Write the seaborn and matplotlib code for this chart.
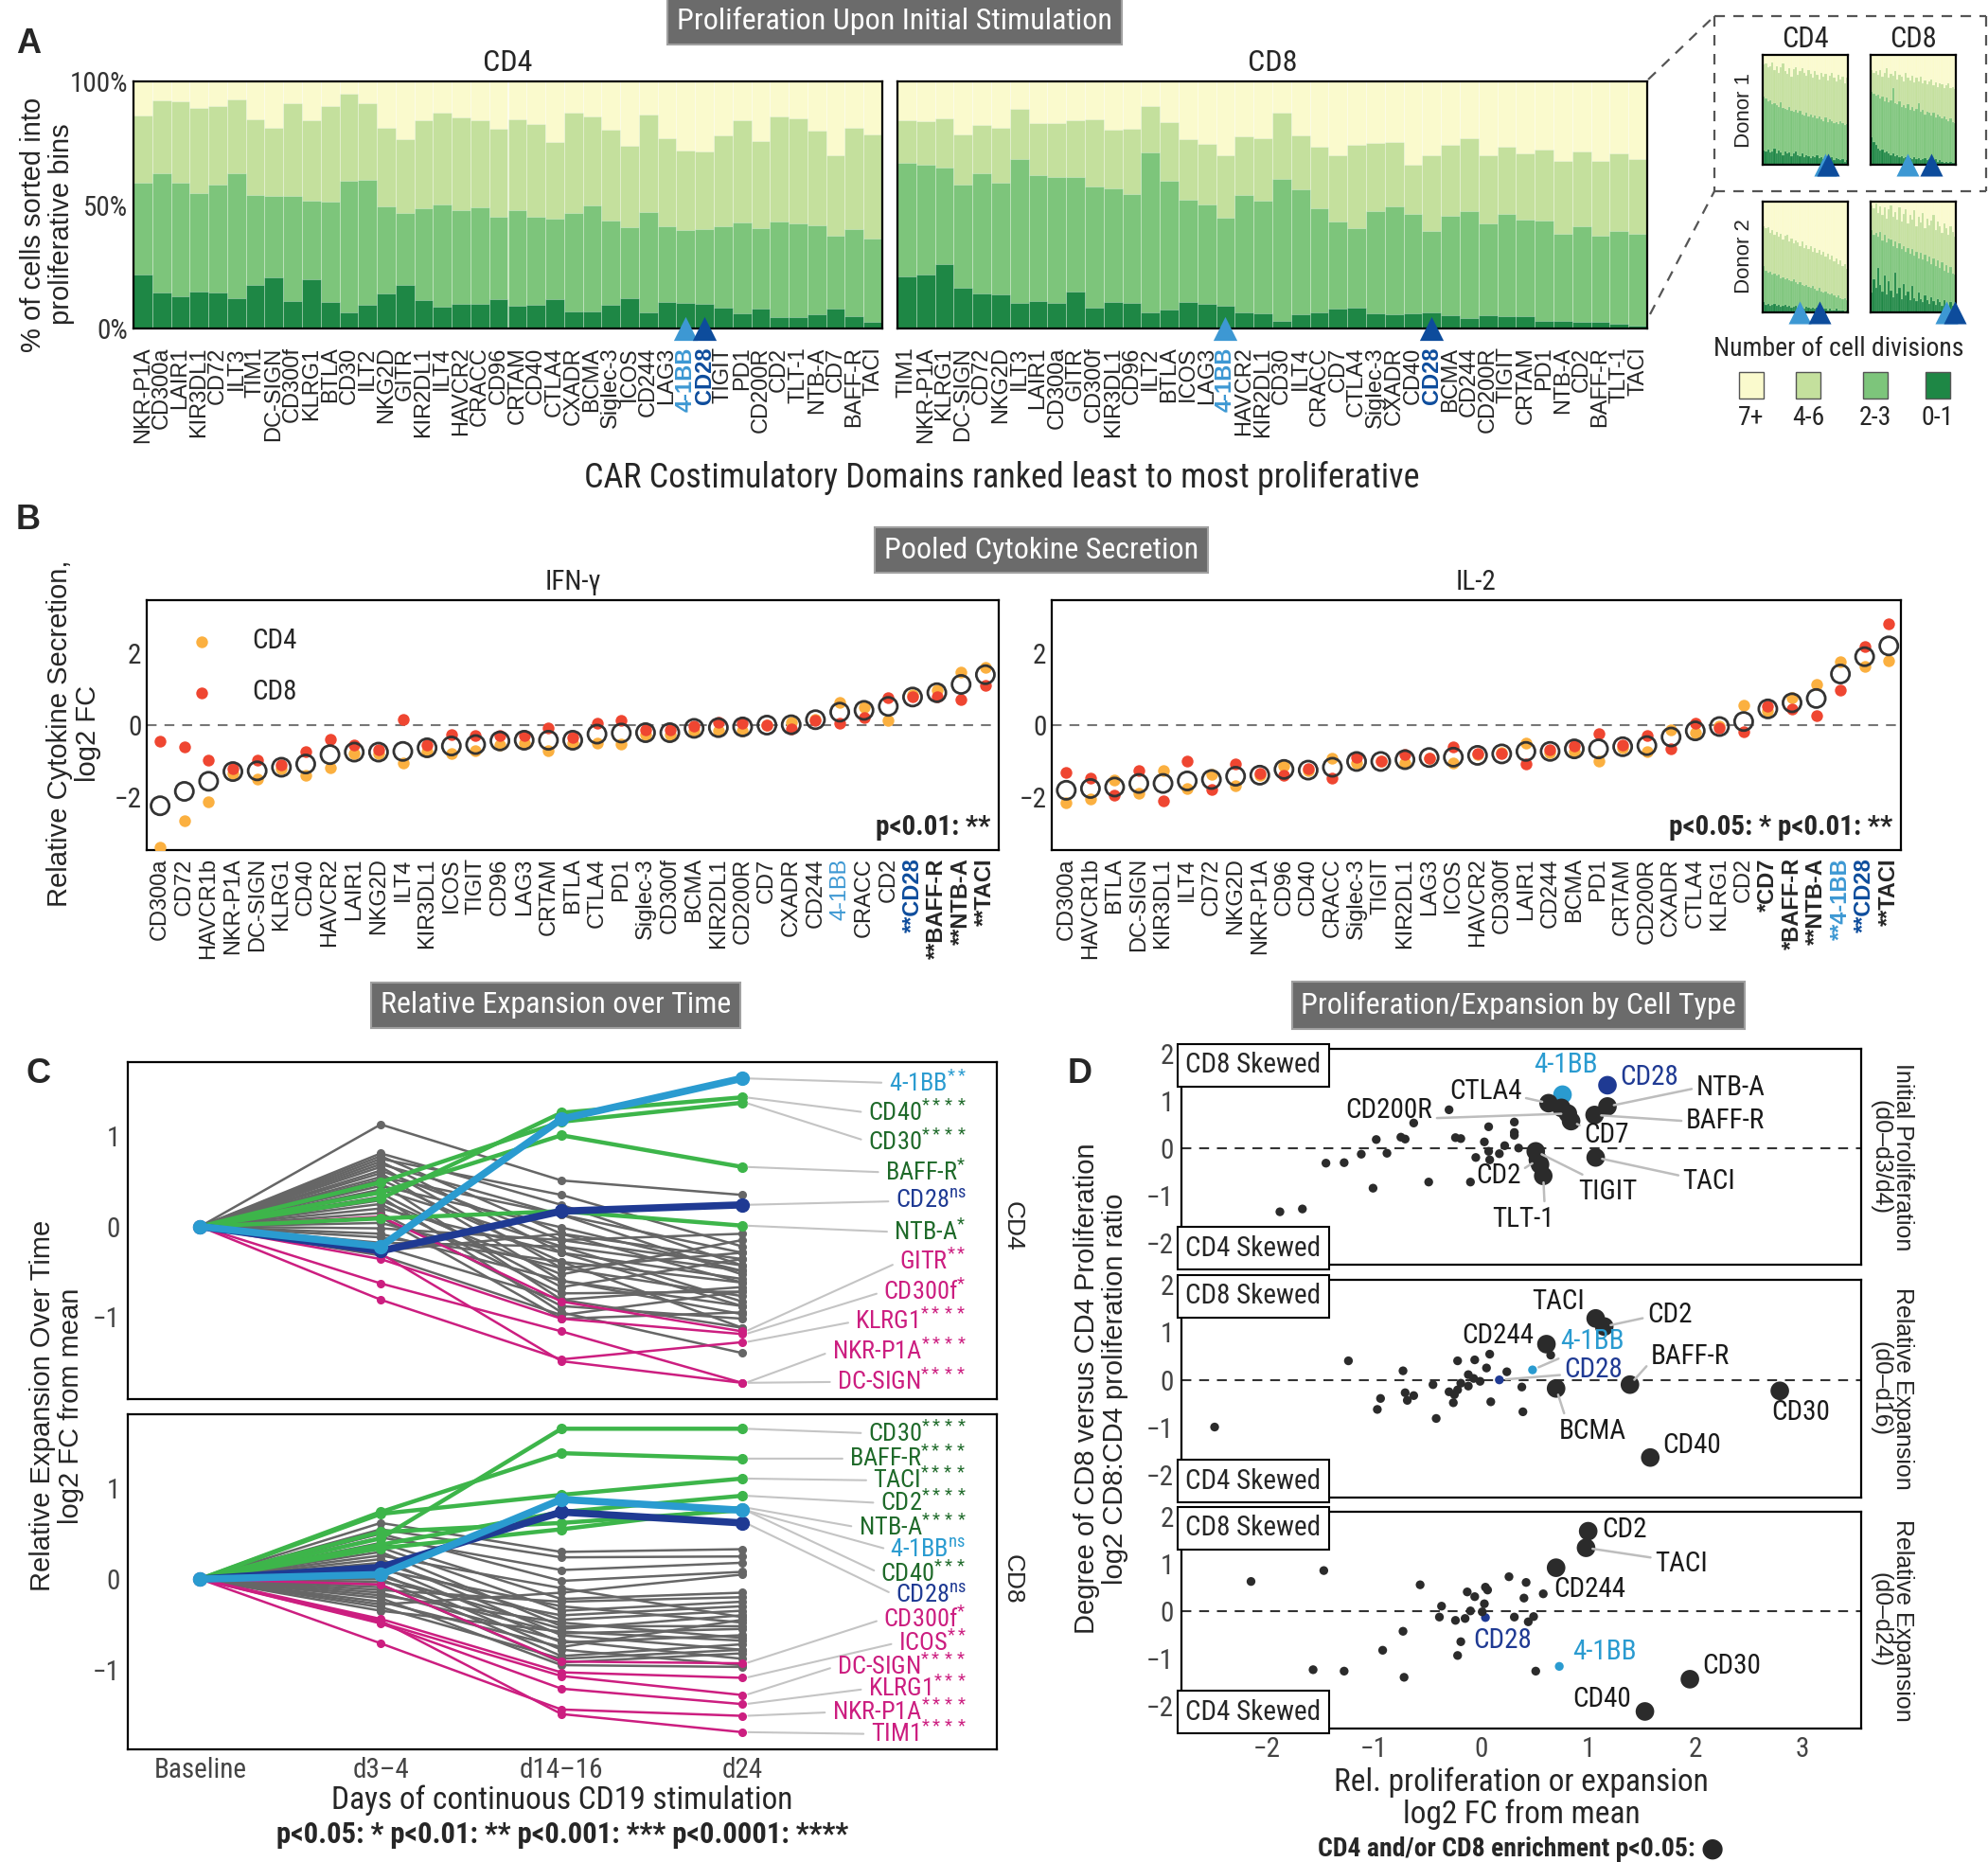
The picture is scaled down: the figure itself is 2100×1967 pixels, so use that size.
import numpy as np
import matplotlib
matplotlib.use("Agg")
import matplotlib.pyplot as plt
from matplotlib.lines import Line2D
from matplotlib.patches import Rectangle
from matplotlib import font_manager
import seaborn as sns

sns.set_theme(style="white")


def pick_narrow():
    ttf = font_manager.fontManager.ttflist
    names = {f.name for f in ttf}
    for n in ["Liberation Sans Narrow", "Roboto Condensed", "Open Sans Condensed", "DejaVu Sans Condensed",
              "Noto Sans Condensed"]:
        if n in names:
            return n, "normal"
    for f in ttf:
        if f.name in ("DejaVu Sans", "Noto Sans", "Open Sans", "Roboto", "Liberation Sans") and \
                str(f.stretch) in ("condensed", "semi-condensed", "extra-condensed"):
            return f.name, f.stretch
    return "Roboto", "normal"


NAME, STRETCH = pick_narrow()
NKW = dict(family=[NAME, "DejaVu Sans"], stretch=STRETCH)
plt.rcParams["font.family"] = ["Liberation Sans", "DejaVu Sans"]
plt.rcParams["mathtext.fontset"] = "custom"
plt.rcParams["mathtext.rm"] = NAME
plt.rcParams["mathtext.it"] = NAME

# ---------------- data : panel A (percent of cells, cumulative tops) ----------------
cd4_names = ["NKR-P1A", "CD300a", "LAIR1", "KIR3DL1", "CD72", "ILT3", "TIM1", "DC-SIGN", "CD300f", "KLRG1",
             "BTLA", "CD30", "ILT2", "NKG2D", "GITR", "KIR2DL1", "ILT4", "HAVCR2", "CRACC", "CD96",
             "CRTAM", "CD40", "CTLA4", "CXADR", "BCMA", "Siglec-3", "ICOS", "CD244", "LAG3", "4-1BB",
             "CD28", "TIGIT", "PD1", "CD200R", "CD2", "TLT-1", "NTB-A", "CD7", "BAFF-R", "TACI"]
cd4_top46 = [86.2, 92.5, 92.0, 89.4, 90.1, 92.6, 84.6, 81.4, 91.0, 84.3, 90.1, 94.9, 91.0, 81.1, 76.7, 84.1,
             87.5, 85.4, 84.1, 80.8, 84.7, 82.7, 75.4, 87.3, 86.0, 80.3, 73.9, 86.5, 76.9, 72.1, 71.8, 78.3,
             84.3, 75.7, 85.9, 85.0, 80.1, 70.3, 81.4, 78.6]
cd4_top23 = [59.1, 62.9, 59.1, 54.6, 58.2, 62.9, 54.1, 53.8, 53.8, 51.8, 51.5, 59.9, 60.0, 49.3, 46.8, 48.7,
             50.2, 47.8, 48.9, 45.2, 47.8, 45.1, 44.6, 46.8, 49.7, 43.8, 41.0, 47.1, 41.3, 39.7, 40.4, 41.4,
             42.8, 40.6, 43.2, 42.5, 41.7, 37.5, 40.1, 36.3]
cd4_top01 = [21.9, 14.6, 13.2, 14.9, 14.6, 12.1, 17.7, 20.6, 11.1, 20.0, 10.8, 6.6, 9.6, 14.3, 17.5, 11.6,
             8.9, 9.8, 9.8, 11.7, 9.2, 9.4, 11.7, 7.0, 6.9, 9.6, 12.1, 6.4, 10.7, 10.4, 9.8, 8.5,
             6.0, 8.2, 4.5, 4.7, 5.7, 8.2, 5.1, 2.5]

cd8_names = ["TIM1", "NKR-P1A", "KLRG1", "DC-SIGN", "CD72", "NKG2D", "ILT3", "LAIR1", "CD300a", "GITR",
             "CD300f", "KIR3DL1", "CD96", "ILT2", "BTLA", "ICOS", "LAG3", "4-1BB", "HAVCR2", "KIR2DL1",
             "CD30", "ILT4", "CRACC", "CD7", "CTLA4", "Siglec-3", "CXADR", "CD40", "CD28", "BCMA",
             "CD244", "CD200R", "TIGIT", "CRTAM", "PD1", "NTB-A", "CD2", "BAFF-R", "TLT-1", "TACI"]
cd8_top46 = [84.3, 83.9, 85.0, 78.6, 82.4, 81.1, 89.0, 83.3, 83.1, 84.3, 84.6, 80.3, 80.8, 89.9, 83.7, 76.7,
             74.8, 70.1, 77.7, 77.1, 87.5, 78.3, 73.5, 70.1, 74.4, 75.2, 75.4, 66.1, 70.3, 74.5, 76.9, 70.3,
             73.4, 71.0, 72.5, 68.0, 71.8, 67.8, 71.0, 68.7]
cd8_top23 = [67.1, 66.2, 65.0, 58.2, 62.9, 58.9, 68.4, 62.0, 61.4, 61.4, 57.3, 56.6, 54.5, 71.1, 59.6, 52.1,
             50.3, 44.8, 54.1, 51.8, 60.5, 56.3, 48.7, 43.2, 40.6, 47.6, 49.3, 46.5, 39.4, 45.7, 47.6, 42.7,
             46.4, 44.2, 43.6, 38.5, 41.4, 37.5, 39.5, 38.2]
cd8_top01 = [20.9, 21.9, 26.1, 16.6, 14.3, 13.9, 10.2, 11.3, 10.4, 14.9, 8.3, 10.7, 10.2, 6.4, 7.5, 10.7,
             9.8, 9.2, 6.6, 6.2, 3.1, 5.7, 6.4, 7.9, 8.5, 6.0, 5.7, 6.0, 6.6, 5.4, 4.1, 5.4,
             5.0, 5.1, 3.1, 3.1, 2.8, 2.5, 2.0, 1.3]

# donor insets (40 ranked domains each)
d1cd4_46 = [91, 92, 89, 90, 93, 86, 90, 84, 89, 92, 85, 83, 88, 80, 87, 89, 82, 85, 88, 84,
            81, 86, 83, 79, 85, 82, 78, 84, 80, 83, 77, 81, 84, 79, 76, 82, 78, 80, 74, 79]
d1cd4_23 = [62, 60, 58, 59, 55, 56, 54, 53, 57, 52, 51, 50, 53, 49, 48, 50, 47, 49, 46, 45,
            47, 44, 46, 43, 45, 42, 44, 41, 40, 43, 39, 41, 40, 38, 39, 37, 40, 38, 36, 37]
d1cd4_01 = [13, 12, 14, 11, 12, 15, 10, 13, 11, 9, 12, 10, 11, 8, 10, 12, 9, 8, 10, 7,
            9, 8, 6, 8, 7, 9, 6, 7, 5, 8, 6, 5, 7, 4, 6, 5, 4, 5, 3, 4]
d1cd8_46 = [86, 84, 85, 82, 86, 80, 84, 88, 79, 83, 81, 85, 78, 82, 80, 76, 84, 79, 77, 81,
            75, 79, 76, 80, 74, 77, 73, 76, 78, 72, 75, 71, 74, 73, 70, 72, 74, 70, 71, 69]
d1cd8_23 = [66, 65, 63, 64, 60, 62, 58, 61, 57, 59, 70, 56, 55, 58, 53, 54, 52, 55, 50, 53,
            49, 51, 56, 48, 50, 46, 48, 47, 45, 47, 43, 46, 44, 42, 44, 41, 40, 42, 39, 38]
d1cd8_01 = [25, 21, 18, 15, 13, 14, 11, 12, 10, 9, 10, 8, 9, 7, 8, 6, 7, 8, 6, 5,
            7, 5, 6, 4, 5, 6, 4, 5, 3, 4, 5, 3, 4, 3, 2, 3, 2, 3, 2, 2]
d2cd4_46 = [78, 76, 77, 72, 74, 70, 73, 68, 71, 66, 69, 70, 64, 67, 62, 65, 63, 60, 64, 58,
            61, 57, 60, 55, 58, 54, 56, 52, 55, 50, 53, 48, 51, 46, 49, 44, 47, 42, 44, 39]
d2cd4_23 = [42, 38, 36, 37, 34, 35, 33, 34, 31, 32, 30, 31, 29, 28, 30, 27, 26, 27, 25, 24,
            25, 23, 22, 24, 21, 20, 22, 19, 18, 19, 17, 16, 17, 15, 14, 15, 13, 12, 13, 11]
d2cd4_01 = [9, 7, 8, 6, 7, 8, 6, 7, 5, 6, 7, 5, 6, 4, 5, 6, 4, 5, 4, 3,
            5, 4, 3, 4, 3, 4, 3, 2, 3, 3, 2, 3, 2, 2, 3, 2, 2, 2, 1, 2]
d2cd8_46 = [97, 94, 98, 90, 96, 88, 95, 85, 93, 97, 86, 91, 84, 95, 82, 89, 93, 80, 88, 84,
            92, 78, 86, 81, 90, 76, 85, 79, 83, 88, 74, 82, 78, 72, 80, 76, 70, 78, 73, 68]
d2cd8_23 = [74, 70, 72, 68, 73, 65, 70, 63, 67, 66, 60, 64, 58, 62, 57, 60, 55, 58, 53, 57,
            51, 55, 49, 54, 48, 52, 46, 50, 44, 49, 42, 47, 40, 45, 38, 43, 36, 41, 35, 34]
d2cd8_01 = [18, 30, 22, 40, 25, 19, 33, 16, 28, 20, 14, 36, 17, 22, 12, 26, 15, 19, 11, 24,
            13, 10, 18, 12, 9, 15, 11, 8, 14, 10, 7, 12, 9, 6, 11, 8, 5, 9, 6, 4]
# rank of 4-1BB / CD28 in each inset
inset_rank_41bb = [29, 17, 17, 35]
inset_rank_cd28 = [30, 28, 26, 39]

# ---------------- data : panel B (log2 FC) ----------------
ifn_names = ["CD300a", "CD72", "HAVCR1b", "NKR-P1A", "DC-SIGN", "KLRG1", "CD40", "HAVCR2", "LAIR1", "NKG2D",
             "ILT4", "KIR3DL1", "ICOS", "TIGIT", "CD96", "LAG3", "CRTAM", "BTLA", "CTLA4", "PD1",
             "Siglec-3", "CD300f", "BCMA", "KIR2DL1", "CD200R", "CD7", "CXADR", "CD244", "4-1BB", "CRACC",
             "CD2", "CD28", "BAFF-R", "NTB-A", "TACI"]
ifn_sig = {"CD28": "**", "BAFF-R": "**", "NTB-A": "**", "TACI": "**"}
ifn_cd4 = [-3.39, -2.66, -2.14, -1.34, -1.50, -1.22, -1.39, -1.17, -0.80, -0.80, -1.06, -0.73, -0.80, -0.71,
           -0.54, -0.49, -0.71, -0.49, -0.49, -0.52, -0.27, -0.27, -0.16, -0.16, -0.16, 0.01, 0.08, 0.17,
           0.64, 0.50, 0.12, 0.85, 0.97, 1.46, 1.61]
ifn_cd8 = [-0.46, -0.60, -0.98, -1.20, -0.98, -1.10, -0.73, -0.40, -0.56, -0.68, 0.15, -0.54, -0.27, -0.30,
           -0.30, -0.30, -0.07, -0.35, 0.06, 0.12, -0.14, -0.14, -0.02, 0.08, 0.05, 0.01, -0.11, 0.12,
           0.05, 0.22, 0.75, 0.80, 0.80, 0.72, 1.11]
ifn_mean = [-2.24, -1.84, -1.56, -1.29, -1.27, -1.17, -1.08, -0.82, -0.75, -0.75, -0.73, -0.63, -0.58, -0.54,
            -0.44, -0.42, -0.42, -0.42, -0.25, -0.22, -0.21, -0.21, -0.09, -0.07, -0.05, 0.00, 0.01, 0.15,
            0.36, 0.41, 0.52, 0.78, 0.90, 1.13, 1.40]

il2_names = ["CD300a", "HAVCR1b", "BTLA", "DC-SIGN", "KIR3DL1", "ILT4", "CD72", "NKG2D", "NKR-P1A", "CD96",
             "CD40", "CRACC", "Siglec-3", "TIGIT", "KIR2DL1", "LAG3", "ICOS", "HAVCR2", "CD300f", "LAIR1",
             "CD244", "BCMA", "PD1", "CRTAM", "CD200R", "CXADR", "CTLA4", "KLRG1", "CD2", "CD7",
             "BAFF-R", "NTB-A", "4-1BB", "CD28", "TACI"]
il2_sig = {"CD7": "*", "BAFF-R": "*", "NTB-A": "**", "4-1BB": "**", "CD28": "**", "TACI": "**"}
il2_cd4 = [-2.16, -2.05, -1.53, -1.89, -1.25, -1.76, -1.37, -1.69, -1.39, -1.12, -1.25, -0.92, -1.06, -1.01,
           -1.06, -0.92, -1.06, -0.82, -0.75, -0.49, -0.75, -0.73, -0.99, -0.63, -0.73, -0.14, -0.21, -0.02,
           0.55, 0.39, 0.75, 1.13, 1.77, 1.63, 1.79]
il2_cd8 = [-1.32, -1.48, -1.95, -1.27, -2.11, -0.99, -1.78, -1.08, -1.34, -1.39, -1.22, -1.48, -0.89, -1.01,
           -0.82, -0.92, -0.60, -0.80, -0.79, -1.08, -0.68, -0.58, -0.23, -0.56, -0.30, -0.65, 0.06, -0.07,
           -0.18, 0.52, 0.45, 0.26, 0.97, 2.18, 2.81]
il2_mean = [-1.81, -1.76, -1.72, -1.62, -1.62, -1.55, -1.51, -1.42, -1.39, -1.23, -1.25, -1.17, -1.01, -1.01,
            -0.96, -0.90, -0.89, -0.84, -0.80, -0.73, -0.73, -0.66, -0.66, -0.60, -0.57, -0.33, -0.16, -0.04,
            0.10, 0.45, 0.62, 0.74, 1.42, 1.90, 2.20]

# ---------------- data : panel C (log2 FC at d3-4, d14-16, d24; baseline = 0) ----------------
time_labels = ["Baseline", "d3–4", "d14–16", "d24"]
c4_hi_names = ["4-1BB", "CD40", "CD30", "BAFF-R", "CD28", "NTB-A", "GITR", "CD300f", "KLRG1", "NKR-P1A", "DC-SIGN"]
c4_hi_sig = ["**", "****", "****", "*", "ns", "*", "**", "*", "****", "****", "****"]
c4_hi_group = ["lb", "up", "up", "up", "db", "up", "down", "down", "down", "down", "down"]
c4_hi_vals = [[-0.22, 1.19, 1.64], [0.31, 1.26, 1.43], [0.49, 1.16, 1.37], [0.38, 1.01, 0.66],
              [-0.27, 0.17, 0.24], [0.09, 0.17, 0.01], [0.11, -0.83, -1.16], [-0.36, -1.02, -1.19],
              [-0.81, -1.47, -1.28], [-0.63, -1.16, -1.73], [-0.30, -1.49, -1.73]]
c4_gray = [[1.13, 0.51, 0.35], [0.81, 0.24, -0.43], [0.78, -0.08, -0.62], [0.75, 0.35, -0.22],
           [0.72, -0.29, -0.88], [0.69, 0.13, -0.53], [0.66, -0.46, -0.77], [0.62, -0.15, -0.08],
           [0.59, -0.60, -0.97], [0.55, 0.13, -0.29], [0.52, -0.39, -1.12], [0.48, -0.81, -0.67],
           [0.45, -0.01, -0.49], [0.41, -0.22, -0.83], [0.37, -0.67, -0.36], [0.33, -0.95, -1.40],
           [0.29, -0.53, -0.15], [0.25, -0.74, -0.72], [0.20, -0.29, -0.58], [0.15, -0.88, -1.02],
           [0.10, -1.02, -0.95], [0.04, -0.46, -0.29], [-0.02, -0.15, -0.43], [-0.08, -0.60, -0.88],
           [-0.12, -0.39, -0.62], [-0.18, -0.22, -0.49], [-0.22, -0.81, -1.12], [-0.27, -0.08, -0.36],
           [-0.32, -0.98, -0.72]]
c8_hi_names = ["CD30", "BAFF-R", "TACI", "CD2", "NTB-A", "4-1BB", "CD40", "CD28",
               "CD300f", "ICOS", "DC-SIGN", "KLRG1", "NKR-P1A", "TIM1"]
c8_hi_sig = ["****", "****", "****", "****", "****", "ns", "***", "ns", "*", "**", "****", "***", "****", "****"]
c8_hi_group = ["up", "up", "up", "up", "up", "lb", "up", "db", "down", "down", "down", "down", "down", "down"]
c8_hi_vals = [[0.45, 1.66, 1.66], [0.74, 1.39, 1.33], [0.72, 0.93, 1.11], [0.38, 0.74, 0.92],
              [0.34, 0.55, 0.79], [0.05, 0.88, 0.76], [0.52, 0.62, 0.76], [0.13, 0.74, 0.62],
              [-0.06, -0.91, -0.93], [-0.44, -1.03, -1.09], [-0.48, -1.07, -1.28], [-0.49, -1.21, -1.38],
              [-0.71, -1.44, -1.51], [-0.46, -1.49, -1.69]]
c8_gray = [[0.62, 0.30, 0.33], [0.55, 0.24, 0.25], [0.50, -0.02, 0.08], [0.46, 0.10, 0.18],
           [0.40, -0.22, -0.15], [0.35, -0.35, -0.25], [0.30, -0.52, -0.52], [0.26, -0.10, -0.42],
           [0.22, -0.62, -0.78], [0.18, -0.45, -0.35], [0.14, -0.70, -0.62], [0.10, -0.30, -0.48],
           [0.06, -0.78, -0.95], [0.03, -0.55, -0.40], [0.00, -0.85, -0.72], [-0.03, -0.40, -0.30],
           [-0.06, -0.92, -0.82], [-0.09, -0.60, -0.55], [-0.12, -0.25, -0.20], [-0.15, -0.68, -0.88],
           [-0.18, -0.48, -0.65], [-0.21, -0.95, -0.97], [-0.25, -0.75, -0.45], [-0.28, -0.15, 0.05],
           [-0.31, -0.88, -0.78], [-0.35, -0.58, -0.68]]

# ---------------- data : panel D (x = rel. prolif/expansion, y = log2 CD8:CD4) ----------------
d1_x = [0.76, 1.18, 1.18, 1.06, 0.63, 0.75, 0.81, 0.84, 1.07, 0.51, 0.53, 0.55, 0.58,
        -0.30, -0.63, -0.98, -0.75, -0.71, -0.24, -0.19, 0.07, 0.31, 0.31, 0.31, 0.03, 0.22, 0.35, 0.07,
        0.17, -0.05, 0.08, -1.12, -0.88, -1.28, -1.45, -0.49, -0.10, -1.01, -1.67, -1.88]
d1_y = [1.13, 1.33, 0.88, 0.70, 0.95, 0.85, 0.73, 0.57, -0.20, -0.07, -0.25, -0.35, -0.59,
        0.81, 0.53, 0.18, 0.23, 0.19, 0.22, 0.20, 0.45, 0.55, 0.33, 0.27, 0.13, 0.05, 0.00, -0.07,
        -0.12, -0.20, -0.25, -0.13, -0.11, -0.31, -0.32, -0.72, -0.72, -0.85, -1.29, -1.35]
d1_sig = [1] * 13 + [0] * 27
d1_id = ["4-1BB", "CD28"] + [""] * 38

d2_x = [1.07, 1.15, 0.61, 1.39, 0.70, 2.79, 1.58, 0.48, 0.17,
        0.65, -1.24, -0.73, -0.22, -0.06, 0.08, 0.24, -0.12, -0.07, -0.01, -0.19, -0.12, -0.22, -0.25,
        0.38, -0.71, -0.63, -0.94, -0.69, -0.26, 0.09, -0.97, 0.39, -0.42, -2.49, -0.30, 0.05, -0.45]
d2_y = [1.29, 1.12, 0.75, -0.10, -0.18, -0.23, -1.63, 0.21, 0.00,
        0.52, 0.40, 0.19, 0.40, 0.42, 0.54, 0.17, 0.11, 0.03, -0.03, -0.07, -0.13, -0.21, -0.31,
        -0.15, -0.27, -0.33, -0.39, -0.43, -0.48, -0.46, -0.62, -0.67, -0.81, -0.99, -0.25, 0.25, -0.10]
d2_sig = [1] * 7 + [0] * 30
d2_id = [""] * 7 + ["4-1BB", "CD28"] + [""] * 28

d3_x = [1.00, 0.98, 0.70, 1.95, 1.53, 0.04, 0.73,
        -2.15, -1.47, -0.57, 0.26, 0.42, 0.58, -0.13, 0.06, 0.04, -0.06, 0.03, -0.37, 0.40, -0.10, 0.01,
        -0.39, -0.24, -0.15, 0.31, 0.44, 0.49, -0.73, -0.19, -0.92, -0.22, -1.57, -1.28, -0.72, 0.51]
d3_y = [1.69, 1.34, 0.92, -1.43, -2.11, -0.13, -1.16,
        0.63, 0.86, 0.56, 0.73, 0.61, 0.37, 0.41, 0.45, 0.51, 0.31, 0.16, 0.11, 0.28, 0.01, -0.01,
        -0.12, -0.19, -0.15, -0.12, -0.22, -0.11, -0.42, -0.64, -0.82, -0.93, -1.23, -1.26, -1.39, -1.26]
d3_sig = [1] * 5 + [0] * 31
d3_id = [""] * 5 + ["CD28", "4-1BB"] + [""] * 29

# ---------------- styles ----------------
C7, C46, C23, C01 = "#fafacd", "#c4e09d", "#7dc57b", "#1e8745"
LB, DB = "#3d98d3", "#0d4c9c"
ORANGE, RED = "#fbb040", "#ef4631"
C_UP, C_UP_TXT = "#3db54a", "#1f6a2a"
C_DOWN = "#cc1e80"
C_GRAY = "#666666"
LB_C, DB_C = "#2a9bd0", "#1f3a93"

W, H = 2100, 1967
fig = plt.figure(figsize=(21, 19.67), dpi=100)


def add_ax(l, t, r, b):
    return fig.add_axes([l / W, 1 - b / H, (r - l) / W, (b - t) / H])


def ftext(x, y, s, **kw):
    return fig.text(x / W, 1 - y / H, s, **kw)


def fline(x1, y1, x2, y2, **kw):
    fig.add_artist(Line2D([x1 / W, x2 / W], [1 - y1 / H, 1 - y2 / H], transform=fig.transFigure, **kw))


def title_box(xc, yc, s):
    ftext(xc, yc, s, ha="center", va="center", fontsize=23, color="white", **NKW,
          bbox=dict(boxstyle="square,pad=0.3", fc="#6b6b6b", ec="#a0a0a0", lw=1.5))


def frame(ax, lw=1.6):
    for sp in ax.spines.values():
        sp.set_visible(True)
        sp.set_color("black")
        sp.set_linewidth(lw)


def narrow_ticks(ax, axis="y", size=18, color="#333333"):
    labels = ax.get_yticklabels() if axis == "y" else ax.get_xticklabels()
    for t in labels:
        t.set_family(NKW["family"])
        t.set_stretch(STRETCH)
        t.set_fontsize(size)
        t.set_color(color)


def stacked(ax, t46, t23, t01, lw):
    n = len(t46)
    for vals, col in [([100] * n, C7), (t46, C46), (t23, C23), (t01, C01)]:
        sns.barplot(x=list(range(n)), y=vals, color=col, width=1.0, saturation=1, errorbar=None,
                    edgecolor=(1, 1, 1, 0.3), linewidth=lw, ax=ax)
    ax.set_xlim(-0.5, n - 0.5)
    ax.set_ylim(0, 100)
    ax.set_xlabel("")
    ax.set_ylabel("")
    frame(ax)


# ================= Panel A =================
title_box(945, 22, "Proliferation Upon Initial Stimulation")
ftext(30, 47, "A", fontsize=26, weight="bold", ha="center", va="center")
for (l, r), names, t46, t23, t01, title in [((141, 932), cd4_names, cd4_top46, cd4_top23, cd4_top01, "CD4"),
                                            ((948, 1740), cd8_names, cd8_top46, cd8_top23, cd8_top01, "CD8")]:
    ax = add_ax(l, 86, r, 347)
    stacked(ax, t46, t23, t01, 0.7)
    ax.set_title(title, fontsize=23, pad=8, **NKW)
    ax.set_xticks(range(len(names)))
    ax.set_xticklabels(names, rotation=90, fontsize=17)
    ax.tick_params(axis="x", length=0, pad=14)
    for t in ax.get_xticklabels():
        if t.get_text() == "4-1BB":
            t.set_color(LB); t.set_weight("bold")
        elif t.get_text() == "CD28":
            t.set_color(DB); t.set_weight("bold")
    ax.scatter([names.index("4-1BB")], [0], marker="^", s=330, color=LB, clip_on=False, zorder=5, linewidths=0)
    ax.scatter([names.index("CD28")], [0], marker="^", s=330, color=DB, clip_on=False, zorder=5, linewidths=0)
    if title == "CD4":
        ax.set_yticks([0, 50, 100])
        ax.set_yticklabels(["0%", "50%", "100%"])
        ax.tick_params(axis="y", length=0, pad=4)
        narrow_ticks(ax, "y", 21)
    else:
        ax.set_yticks([])

ftext(50, 237, "% of cells sorted into\nproliferative bins", rotation=90, ha="center", va="center",
      fontsize=21, linespacing=1.05)
ftext(1058, 505, "CAR Costimulatory Domains ranked least to most proliferative", ha="center", va="center",
      fontsize=26, **NKW)

# insets
inset_boxes = [(1862, 58, 1952, 174), (1976, 58, 2066, 174), (1862, 213, 1952, 330), (1976, 213, 2066, 330)]
inset_data = [(d1cd4_46, d1cd4_23, d1cd4_01), (d1cd8_46, d1cd8_23, d1cd8_01),
              (d2cd4_46, d2cd4_23, d2cd4_01), (d2cd8_46, d2cd8_23, d2cd8_01)]
for i, (box, dat) in enumerate(zip(inset_boxes, inset_data)):
    ax = add_ax(*box)
    stacked(ax, *dat, 0.3)
    ax.set_xticks([]); ax.set_yticks([])
    ax.scatter([inset_rank_41bb[i]], [0], marker="^", s=300, color=LB, clip_on=False, zorder=5, linewidths=0)
    ax.scatter([inset_rank_cd28[i]], [0], marker="^", s=300, color=DB, clip_on=False, zorder=6, linewidths=0)
ftext(1907, 42, "CD4", ha="center", va="center", fontsize=22, **NKW)
ftext(2021, 42, "CD8", ha="center", va="center", fontsize=22, **NKW)
ftext(1843, 116, "Donor 1", rotation=90, ha="center", va="center", fontsize=16)
ftext(1843, 271, "Donor 2", rotation=90, ha="center", va="center", fontsize=16)

dash = dict(color="#555555", lw=1.6, ls=(0, (5, 4)))
fline(1811, 17, 2098, 17, **dash)
fline(2098, 17, 2098, 202, **dash)
fline(1811, 202, 2098, 202, **dash)
fline(1811, 17, 1811, 202, **dash)
fline(1741, 84, 1811, 17, **dash)
fline(1743, 332, 1811, 202, **dash)

ftext(1942, 368, "Number of cell divisions", ha="center", va="center", fontsize=20, **NKW)
for cx, col, lab in zip([1850, 1910, 1981, 2047], [C7, C46, C23, C01], ["7+", "4-6", "2-3", "0-1"]):
    fig.add_artist(Rectangle(((cx - 13) / W, 1 - 421 / H), 26 / W, 28 / H, transform=fig.transFigure,
                             fc=col, ec="#555555", lw=1))
    ftext(cx, 441, lab, ha="center", va="center", fontsize=20, **NKW)

# ================= Panel B =================
title_box(1100, 581, "Pooled Cytokine Secretion")
ftext(30, 549, "B", fontsize=26, weight="bold", ha="center", va="center")


def cytokine(ax, names, sig, cd4, cd8, mean, title, note, xlim):
    x = np.arange(len(names))
    ax.axhline(0, color="#777777", lw=1.5, ls=(0, (5, 4)), zorder=1)
    sns.scatterplot(x=x, y=cd4, color=ORANGE, s=80, linewidth=0, ax=ax, zorder=3, label="CD4")
    sns.scatterplot(x=x, y=cd8, color=RED, s=80, linewidth=0, ax=ax, zorder=3, label="CD8")
    ax.scatter(x, mean, s=190, facecolors="none", edgecolors="#333333", linewidths=2, zorder=4)
    ax.set_xlim(*xlim)
    ax.set_ylim(-3.47, 3.47)
    ax.set_yticks([-2, 0, 2])
    ax.tick_params(axis="y", length=0, pad=4)
    narrow_ticks(ax, "y", 21)
    ax.set_xticks(x)
    ax.set_xticklabels([sig.get(n, "") + n for n in names], rotation=90, fontsize=17)
    ax.tick_params(axis="x", length=0, pad=6)
    for t, n in zip(ax.get_xticklabels(), names):
        if n == "4-1BB":
            t.set_color(LB)
        elif n == "CD28":
            t.set_color(DB)
        if n in sig:
            t.set_weight("bold")
    ax.set_title(title, fontsize=21, pad=8, **NKW)
    ax.text(0.99, 0.09, note, transform=ax.transAxes, ha="right", va="center", fontsize=21,
            weight="bold", **NKW)
    frame(ax)


axI = add_ax(155, 634, 1055, 898)
cytokine(axI, ifn_names, ifn_sig, ifn_cd4, ifn_cd8, ifn_mean, "IFN-γ", "p<0.01: **", (-0.55, 34.55))
leg = axI.legend(loc="upper left", frameon=False, fontsize=21, handletextpad=0.8, labelspacing=0.9,
                 borderaxespad=0.6, markerscale=1.0)
for t in leg.get_texts():
    t.set_family(NKW["family"])
    t.set_stretch(STRETCH)
axL = add_ax(1111, 634, 2008, 898)
cytokine(axL, il2_names, il2_sig, il2_cd4, il2_cd8, il2_mean, "IL-2", "p<0.05: * p<0.01: **", (-0.6, 34.5))
axL.get_legend().remove()
ftext(78, 775, "Relative Cytokine Secretion,\nlog2 FC", rotation=90, ha="center", va="center",
      fontsize=21, linespacing=1.05)

# ================= Panel C =================
title_box(587, 1062, "Relative Expansion over Time")
ftext(40, 1135, "C", fontsize=26, weight="bold", ha="center", va="center")

group_style = {"up": (C_UP, C_UP_TXT, 3.2, 7), "down": (C_DOWN, C_DOWN, 1.8, 5.5),
               "lb": (LB_C, LB_C, 5.5, 10), "db": (DB_C, DB_C, 5.5, 10)}


def expansion(ax, gray, hi_names, hi_sig, hi_group, hi_vals, label_y, ylim, side):
    tp = [0, 1, 2, 3]
    for v in gray:
        ax.plot(tp, [0] + v, color=C_GRAY, lw=1.8, marker="o", ms=5.5, zorder=2)
    for grp in ["down", "up", "db", "lb"]:
        for n, g, v in zip(hi_names, hi_group, hi_vals):
            if g != grp:
                continue
            col, _, lw, ms = group_style[g]
            ax.plot(tp, [0] + v, color=col, lw=lw, marker="o", ms=ms, zorder=3 if g in ("up", "down") else 4)
    for n, s, g, v, ly in zip(hi_names, hi_sig, hi_group, hi_vals, label_y):
        sup = r"$^{\mathrm{ns}}$" if s == "ns" else "$^{" + s + "}$"
        ax.annotate(n + sup, xy=(3.02, v[2]), xytext=(4.24, ly), ha="right", va="center",
                    color=group_style[g][1], fontsize=19, annotation_clip=False,
                    arrowprops=dict(arrowstyle="-", color="#c4c4c4", lw=1.5, shrinkA=3, shrinkB=2,
                                    relpos=(0, 0.5)), **NKW)
    ax.set_xlim(-0.4, 4.41)
    ax.set_ylim(*ylim)
    ax.set_yticks([-1, 0, 1])
    ax.tick_params(axis="both", length=0, pad=6)
    narrow_ticks(ax, "y", 21, "#444444")
    ax.text(1.018, (0 - ylim[0]) / (ylim[1] - ylim[0]), side, transform=ax.transAxes, rotation=-90,
            ha="center", va="center", fontsize=19)
    frame(ax)


axC4 = add_ax(135, 1122, 1053, 1478)
expansion(axC4, c4_gray, c4_hi_names, c4_hi_sig, c4_hi_group, c4_hi_vals,
          [1.59, 1.26, 0.94, 0.60, 0.28, -0.06, -0.39, -0.72, -1.05, -1.38, -1.72], (-1.91, 1.82), "CD4")
axC4.set_xticks([])
axC8 = add_ax(135, 1494, 1053, 1848)
expansion(axC8, c8_gray, c8_hi_names, c8_hi_sig, c8_hi_group, c8_hi_vals,
          [1.61, 1.33, 1.09, 0.84, 0.57, 0.32, 0.06, -0.18, -0.44, -0.70, -0.96, -1.21, -1.47, -1.71],
          (-1.88, 1.82), "CD8")
axC8.set_xticks([0, 1, 2, 3])
axC8.set_xticklabels(time_labels)
narrow_ticks(axC8, "x", 21, "#444444")
ftext(60, 1485, "Relative Expansion Over Time\nlog2 FC from mean", rotation=90, ha="center", va="center",
      fontsize=21, linespacing=1.05)
ftext(594, 1902, "Days of continuous CD19 stimulation", ha="center", va="center", fontsize=24, **NKW)
ftext(594, 1938, "p<0.05: * p<0.01: ** p<0.001: *** p<0.0001: ****", ha="center", va="center",
      fontsize=22, weight="bold", **NKW)

# ================= Panel D =================
title_box(1604, 1062, "Proliferation/Expansion by Cell Type")
ftext(1141, 1135, "D", fontsize=26, weight="bold", ha="center", va="center")

d_labels = [
    [("4-1BB", 0.79, 1.75, LB_C, None, None), ("CD28", 1.57, 1.49, DB_C, None, None),
     ("NTB-A", 2.33, 1.27, "k", (1.18, 0.88), (0, 0.5)), ("CTLA4", 0.04, 1.19, "k", (0.63, 0.95), (1, 0.3)),
     ("CD200R", -0.86, 0.80, "k", (0.81, 0.73), (1, 0.2)), ("BAFF-R", 2.28, 0.57, "k", (1.06, 0.70), (0, 0.5)),
     ("CD7", 1.17, 0.27, "k", (0.84, 0.57), (0, 0.8)), ("TACI", 2.13, -0.71, "k", (1.07, -0.20), (0, 0.7)),
     ("TIGIT", 1.18, -0.92, "k", (0.51, -0.07), (0.2, 1)), ("CD2", 0.16, -0.59, "k", (0.53, -0.25), (1, 0.7)),
     ("TLT-1", 0.39, -1.50, "k", (0.58, -0.59), (0.85, 1))],
    [("TACI", 0.72, 1.65, "k", None, None), ("CD2", 1.76, 1.37, "k", (1.15, 1.12), (0, 0.4)),
     ("CD244", 0.16, 0.92, "k", None, None), ("4-1BB", 1.04, 0.80, LB_C, (0.48, 0.21), (0.1, 0)),
     ("CD28", 1.05, 0.22, DB_C, (0.17, 0.0), (0, 0.3)), ("BAFF-R", 1.95, 0.49, "k", (1.39, -0.10), (0, 0.3)),
     ("CD30", 2.99, -0.68, "k", None, None), ("BCMA", 1.04, -1.07, "k", (0.70, -0.18), (0.1, 1)),
     ("CD40", 1.97, -1.37, "k", None, None)],
    [("CD2", 1.34, 1.72, "k", None, None), ("TACI", 1.87, 1.01, "k", (0.98, 1.34), (0, 0.7)),
     ("CD244", 1.01, 0.46, "k", None, None), ("CD28", 0.20, -0.62, DB_C, None, None),
     ("4-1BB", 1.15, -0.86, LB_C, None, None), ("CD30", 2.34, -1.15, "k", None, None),
     ("CD40", 1.13, -1.86, "k", None, None)],
]
d_side = ["Initial Proliferation\n(d0–d3/d4)", "Relative Expansion\n(d0–d16)", "Relative Expansion\n(d0–d24)"]
d_boxes = [(1108, 1336), (1352, 1582), (1597, 1826)]
d_sets = [(d1_x, d1_y, d1_sig, d1_id), (d2_x, d2_y, d2_sig, d2_id), (d3_x, d3_y, d3_sig, d3_id)]
pal = {"": "#2b2b2b", "4-1BB": LB_C, "CD28": DB_C}
for k, ((t, b), (xs, ys, sig, ids), labs, side) in enumerate(zip(d_boxes, d_sets, d_labels, d_side)):
    ax = add_ax(1248, t, 1966, b)
    ax.axhline(0, color="#333333", lw=1.5, ls=(0, (5, 4)), zorder=1)
    sns.scatterplot(x=xs, y=ys, hue=ids, palette=pal, size=sig, sizes={0: 45, 1: 200}, linewidth=0,
                    legend=False, ax=ax, zorder=3)
    for name, tx, ty, col, tgt, rp in labs:
        if tgt is None:
            ax.text(tx, ty, name, ha="center", va="center", color=col, fontsize=21, **NKW)
        else:
            ax.annotate(name, xy=tgt, xytext=(tx, ty), ha="center", va="center", color=col, fontsize=21,
                        arrowprops=dict(arrowstyle="-", color="#bdbdbd", lw=1.8, shrinkA=1, shrinkB=5,
                                        relpos=rp), **NKW)
    ax.set_xlim(-2.8, 3.55)
    ax.set_ylim(-2.47, 2.1)
    ax.set_yticks([-2, -1, 0, 1, 2])
    ax.tick_params(axis="y", length=0, pad=6)
    narrow_ticks(ax, "y", 21, "#444444")
    ax.set_xticks([-2, -1, 0, 1, 2, 3])
    if k < 2:
        ax.set_xticklabels([])
        ax.tick_params(axis="x", length=0)
    else:
        ax.tick_params(axis="x", length=0, pad=6)
        narrow_ticks(ax, "x", 21, "#444444")
    for txt, va, yy in [("CD8 Skewed", "top", 0.985), ("CD4 Skewed", "bottom", 0.015)]:
        ax.text(0.006, yy, txt, transform=ax.transAxes, ha="left", va=va, fontsize=21, zorder=6,
                bbox=dict(boxstyle="square,pad=0.3", fc="white", ec="black", lw=1.5), **NKW)
    ax.text(1.045, 0.5, side, transform=ax.transAxes, rotation=-90, ha="center", va="center",
            fontsize=18, linespacing=1.0)
    frame(ax)

ftext(1163, 1467, "Degree of CD8 versus CD4 Proliferation\nlog2 CD8:CD4 proliferation ratio", rotation=90,
      ha="center", va="center", fontsize=21, linespacing=1.05)
ftext(1607, 1883, "Rel. proliferation or expansion", ha="center", va="center", fontsize=24, **NKW)
ftext(1607, 1917, "log2 FC from mean", ha="center", va="center", fontsize=24, **NKW)
ftext(1607, 1953, "CD4 and/or CD8 enrichment p<0.05: ●", ha="center", va="center", fontsize=20,
      weight="bold", **NKW)

fig.savefig("out.png", dpi=100, facecolor="white")
